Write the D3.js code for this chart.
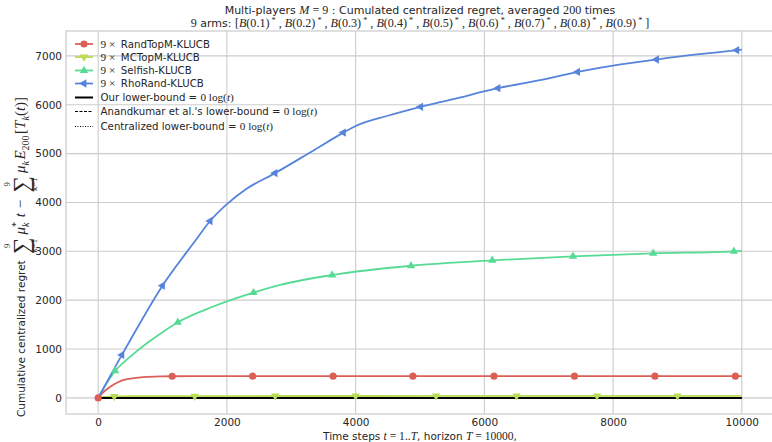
<!DOCTYPE html>
<html>
<head>
<meta charset="utf-8">
<script src="https://cdn.jsdelivr.net/npm/d3@7/dist/d3.min.js"></script>
<style>
  html, body { margin: 0; padding: 0; background: #fff; }
  text { white-space: pre; }
</style>
</head>
<body>
<svg id="chart" width="772" height="442"></svg>
<script>
// ---------------- DATA ----------------
const xTicks = [0, 2000, 4000, 6000, 8000, 10000];
const yTicks = [0, 1000, 2000, 3000, 4000, 5000, 6000, 7000];

const randTopM_t = [0, 50, 100, 200, 300, 400, 500, 700, 1000, 1150, 1500, 2400, 3650, 4890, 6150, 7400, 8650, 9900, 10000];
const randTopM_v = [0, 75, 140, 240, 315, 368, 395, 425, 440, 443, 444, 444, 444, 444, 444, 444, 444, 444, 444];
const randTopM_markers = [0, 1150, 2400, 3650, 4890, 6150, 7400, 8650, 9900];

const mcTopM_t = [0, 50, 100, 250, 500, 1000, 1500, 2750, 4000, 5250, 6500, 7750, 9000, 10000];
const mcTopM_v = [0, 15, 22, 30, 34, 36, 37, 38, 38, 39, 39, 40, 40, 40];
const mcTopM_markers = [250, 1500, 2750, 4000, 5250, 6500, 7750, 9000];

const selfish_t = [0, 100, 264, 500, 756, 1000, 1237, 1790, 2412, 2826, 3634, 4860, 6123, 7376, 8623, 9876, 10000];
const selfish_v = [0, 230, 552, 845, 1118, 1345, 1548, 1870, 2153, 2311, 2515, 2705, 2816, 2898, 2959, 3000, 3010];
const selfish_markers = [264, 1237, 2412, 3634, 4860, 6123, 7376, 8623, 9876];

const rhoRand_t = [0, 368, 500, 999, 1500, 1739, 2000, 2300, 2748, 3300, 3810, 4000, 4500, 5010, 5500, 6211, 7000, 7448, 8000, 8675, 9300, 9922, 10000];
const rhoRand_v = [0, 879, 1186, 2297, 3200, 3620, 3965, 4275, 4601, 5030, 5430, 5565, 5775, 5957, 6110, 6339, 6540, 6673, 6800, 6926, 7030, 7117, 7130];
const rhoRand_markers = [368, 999, 1739, 2748, 3810, 5010, 6211, 7448, 8675, 9922];

const bound_t = [0, 10000];
const bound_v = [0, 0];

const seriesNames = ["RandTopM-KLUCB", "MCTopM-KLUCB", "Selfish-KLUCB", "RhoRand-KLUCB"];
const seriesColors = ["#db5f57", "#b9db57", "#57db94", "#5784db"];
const seriesMarkers = ["circle", "down", "up", "left"];

// ---------------- SETUP ----------------
const svg = d3.select("#chart");
const L = 66, R = 774, T = 31, B = 414;
const x = d3.scaleLinear().domain([-500, 10500]).range([L, R]);
const y = d3.scaleLinear().domain([-330, 7510]).range([B, T]);

const SANS = "DejaVu Sans";
const SERIF = "Liberation Serif";
const TXT = "#262626";
const GRID = "#cccccc";

// grid
const gGrid = svg.append("g");
gGrid.selectAll("line.vx").data(xTicks).join("line")
  .attr("x1", d => x(d)).attr("x2", d => x(d)).attr("y1", T).attr("y2", B)
  .attr("stroke", GRID).attr("stroke-width", 1.1);
gGrid.selectAll("line.hy").data(yTicks).join("line")
  .attr("x1", L).attr("x2", R).attr("y1", d => y(d)).attr("y2", d => y(d))
  .attr("stroke", GRID).attr("stroke-width", 1.1);
// frame
svg.append("rect").attr("x", L).attr("y", T).attr("width", R - L).attr("height", B - T)
  .attr("fill", "none").attr("stroke", GRID).attr("stroke-width", 1.25);

// axes tick labels using d3 axes
const xAxis = d3.axisBottom(x).tickValues(xTicks).tickSize(0).tickPadding(5).tickFormat(d3.format("d"));
const gx = svg.append("g").attr("transform", `translate(0,${B})`).call(xAxis);
gx.select(".domain").remove();
gx.selectAll("text").attr("font-family", SANS).attr("font-size", 10.5).attr("fill", TXT);

const yAxis = d3.axisLeft(y).tickValues(yTicks).tickSize(0).tickPadding(4).tickFormat(d3.format("d"));
const gy = svg.append("g").attr("transform", `translate(${L},0)`).call(yAxis);
gy.select(".domain").remove();
gy.selectAll("text").attr("font-family", SANS).attr("font-size", 10.5).attr("fill", TXT);

// ---------------- MARKERS ----------------
function markerPath(kind) {
  if (kind === "circle") return d3.symbol().type(d3.symbolCircle).size(40)();
  return d3.symbol().type(d3.symbolTriangle).size(30)();
}
function markerRot(kind) {
  return kind === "down" ? 180 : kind === "left" ? -90 : 0;
}

// ---------------- LINES ----------------
const line = d3.line().x(d => x(d[0])).y(d => y(d[1])).curve(d3.curveMonotoneX);
const allT = [randTopM_t, mcTopM_t, selfish_t, rhoRand_t];
const allV = [randTopM_v, mcTopM_v, selfish_v, rhoRand_v];
const allM = [randTopM_markers, mcTopM_markers, selfish_markers, rhoRand_markers];

const gLines = svg.append("g");
allT.forEach((ts, i) => {
  const pts = ts.map((t, j) => [t, allV[i][j]]);
  gLines.append("path").attr("d", line(pts)).attr("fill", "none")
    .attr("stroke", seriesColors[i]).attr("stroke-width", 1.8).attr("stroke-linejoin", "round");
});

// lower bounds (all = 0)
const bpts = bound_t.map((t, j) => [t, bound_v[j]]);
gLines.append("path").attr("d", line(bpts)).attr("fill", "none").attr("stroke", "#000").attr("stroke-width", 2);
gLines.append("path").attr("d", line(bpts)).attr("fill", "none").attr("stroke", "#000").attr("stroke-width", 1.2).attr("stroke-dasharray", "4,2");
gLines.append("path").attr("d", line(bpts)).attr("fill", "none").attr("stroke", "#000").attr("stroke-width", 1.2).attr("stroke-dasharray", "1,2");

allT.forEach((ts, i) => {
  const pts = ts.map((t, j) => [t, allV[i][j]]).filter(p => allM[i].includes(p[0]));
  gLines.selectAll(null).data(pts).join("path")
    .attr("d", markerPath(seriesMarkers[i]))
    .attr("transform", d => `translate(${x(d[0])},${y(d[1])}) rotate(${markerRot(seriesMarkers[i])})`)
    .attr("fill", seriesColors[i]);
});

// ---------------- RICH TEXT ----------------
function rich(parent, px, py, pieces, size, anchor) {
  const t = parent.append("text").attr("x", px).attr("y", py)
    .attr("text-anchor", anchor || "start").attr("fill", TXT).attr("font-size", size);
  let shift = 0;
  pieces.forEach(([str, kind]) => {
    const sp = t.append("tspan").text(str);
    let target = 0;
    if (kind === "s") sp.attr("font-family", SANS);
    else {
      sp.attr("font-family", SERIF);
      let fs = size * 1.1;
      if (kind === "mi" || kind === "subi" || kind === "supi") sp.attr("font-style", "italic");
      if (kind.startsWith("sub")) { fs = size * 0.75; target = size * 0.3; }
      if (kind.startsWith("sup")) { fs = size * 0.75; target = -size * 0.4; }
      sp.attr("font-size", fs);
    }
    if (target !== shift) { sp.attr("dy", target - shift); shift = target; }
  });
  return t;
}

// titles
const cx = (L + R) / 2;
rich(svg, cx, 14, [["Multi-players ", "s"], ["M", "mi"], [" = 9", "m"], [" : Cumulated centralized regret, averaged ", "s"], ["200", "m"], [" times", "s"]], 11, "middle");
const arms = [];
arms.push(["9", "m"], [" arms: ", "s"], ["[", "m"]);
for (let k = 1; k <= 9; k++) {
  arms.push(["B", "mi"], [`(0.${k})`, "m"], [" *", "sup"]);
  arms.push([k < 9 ? " , " : " ", "m"]);
}
arms.push(["]", "m"]);
rich(svg, cx, 27, arms, 11, "middle");

// x label
rich(svg, cx, 440, [["Time steps ", "s"], ["t", "mi"], [" = 1..", "m"], ["T", "mi"], [", horizon ", "s"], ["T", "mi"], [" = 10000", "m"], [",", "s"]], 10.5, "middle");

// y label (rotated, manual layout), starts near the bottom of the axes
const gyl = svg.append("g").attr("transform", `translate(25,417) rotate(-90)`);
const inner = gyl.append("g");
let cur = 0;
const MF = 15, SF = 10;
function piece(str, fam, fs, dy, italic) {
  const t = inner.append("text").attr("x", cur).attr("y", dy).attr("font-family", fam)
    .attr("font-size", fs).attr("fill", TXT).text(str);
  if (italic) t.attr("font-style", "italic");
  cur += t.node().getComputedTextLength();
}
function sumSym() {
  cur += 3;
  const s = inner.append("text").attr("x", cur).attr("y", 4).attr("font-family", SERIF)
    .attr("font-size", 23).attr("fill", TXT).text("\u2211");
  const w = s.node().getComputedTextLength();
  const lo = inner.append("text").attr("x", cur + w / 2).attr("y", 11.5).attr("text-anchor", "middle")
    .attr("font-family", SERIF).attr("font-size", 8.5).attr("fill", TXT).text("k=1");
  inner.append("text").attr("x", cur + w / 2).attr("y", -15.5).attr("text-anchor", "middle")
    .attr("font-family", SERIF).attr("font-size", 8.5).attr("fill", TXT).text("9");
  const wl = lo.node().getComputedTextLength();
  cur += Math.max(w, wl) + 3;
}
piece("Cumulative centralized regret ", SANS, 10.5, 0, false);
sumSym();
piece("\u03BC", SERIF, MF, 0, true);
const subStart = cur;
piece("k", SERIF, SF, 3.5, true);
const afterK = cur;
cur = subStart;
piece("*", SERIF, SF, -6, false);
cur = Math.max(afterK, cur) + 1;
piece(" t \u2212 ", SERIF, MF, 0, true);
sumSym();
piece("\u03BC", SERIF, MF, 0, true);
piece("k", SERIF, SF, 3.5, true);
cur += 1.5;
piece("E", SERIF, MF, 0, true);
piece("200", SERIF, SF, 3.5, false);
cur += 1.5;
piece("[", SERIF, MF, 0, false);
piece("T", SERIF, MF, 0, true);
piece("k", SERIF, SF, 3.5, true);
piece("(", SERIF, MF, 0, false);
piece("t", SERIF, MF, 0, true);
piece(")]", SERIF, MF, 0, false);

// ---------------- LEGEND ----------------
const legRows = [44, 57, 70.5, 83.5, 97.5, 111.5, 126.5];
const LF = 10.2;
const gl = svg.append("g");
seriesNames.forEach((name, i) => {
  const yy = legRows[i];
  gl.append("line").attr("x1", 75).attr("x2", 93).attr("y1", yy).attr("y2", yy)
    .attr("stroke", seriesColors[i]).attr("stroke-width", 1.8);
  gl.append("path").attr("d", markerPath(seriesMarkers[i]))
    .attr("transform", `translate(84,${yy}) rotate(${markerRot(seriesMarkers[i])})`)
    .attr("fill", seriesColors[i]);
  rich(gl, 100.5, yy + 3.6, [["9 \u00D7  ", "m"], [name, "s"]], LF, "start");
});
const boundLabels = [
  [["Our lower-bound = ", "s"], ["0 log(", "m"], ["t", "mi"], [")", "m"]],
  [["Anandkumar et al.'s lower-bound = ", "s"], ["0 log(", "m"], ["t", "mi"], [")", "m"]],
  [["Centralized lower-bound = ", "s"], ["0 log(", "m"], ["t", "mi"], [")", "m"]]
];
const boundDash = [null, "3,1.5", "1,1.5"];
const boundW = [2, 1.2, 1.0];
boundLabels.forEach((pcs, i) => {
  const yy = legRows[4 + i];
  const ln = gl.append("line").attr("x1", 75).attr("x2", 93).attr("y1", yy).attr("y2", yy)
    .attr("stroke", "#000").attr("stroke-width", boundW[i]);
  if (boundDash[i]) ln.attr("stroke-dasharray", boundDash[i]);
  rich(gl, 100.5, yy + 3.6, pcs, LF, "start");
});
</script>
</body>
</html>
